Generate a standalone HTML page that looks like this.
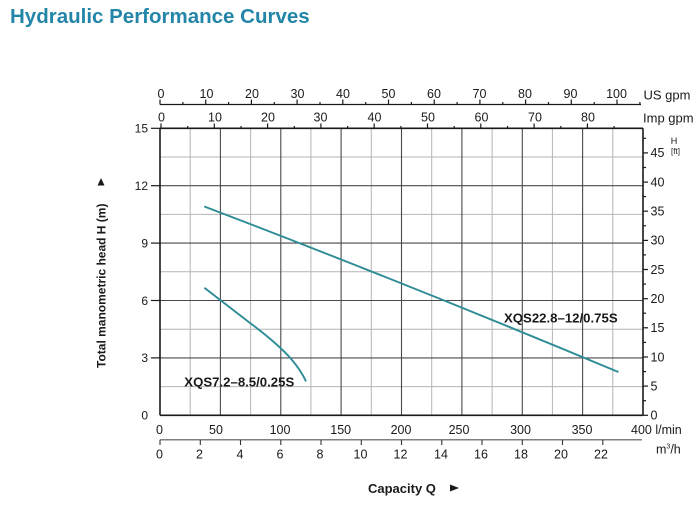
<!DOCTYPE html>
<html>
<head>
<meta charset="utf-8">
<style>
  html,body{margin:0;padding:0;background:#fff;}
  svg{display:block;}
  text{font-family:"Liberation Sans",Arial,sans-serif;fill:#1a1a1a;}
</style>
</head>
<body>
<svg width="700" height="513" viewBox="0 0 700 513" xmlns="http://www.w3.org/2000/svg">
  <rect width="700" height="513" fill="#fff"/>
  <!-- Title -->
  <text x="10" y="23" font-size="20.5" font-weight="bold" style="fill:#2386a8">Hydraulic Performance Curves</text>

  <!-- light grid -->
  <g stroke="#b4b4b4" stroke-width="1">
    <line x1="190.2" y1="128.3" x2="190.2" y2="415.3"/>
    <line x1="250.6" y1="128.3" x2="250.6" y2="415.3"/>
    <line x1="310.9" y1="128.3" x2="310.9" y2="415.3"/>
    <line x1="371.3" y1="128.3" x2="371.3" y2="415.3"/>
    <line x1="431.7" y1="128.3" x2="431.7" y2="415.3"/>
    <line x1="492.1" y1="128.3" x2="492.1" y2="415.3"/>
    <line x1="552.4" y1="128.3" x2="552.4" y2="415.3"/>
    <line x1="612.8" y1="128.3" x2="612.8" y2="415.3"/>
    <line x1="160" y1="386.6" x2="643" y2="386.6"/>
    <line x1="160" y1="329.2" x2="643" y2="329.2"/>
    <line x1="160" y1="271.8" x2="643" y2="271.8"/>
    <line x1="160" y1="214.4" x2="643" y2="214.4"/>
    <line x1="160" y1="157.0" x2="643" y2="157.0"/>
  </g>
  <!-- dark grid -->
  <g stroke="#4a4a4a" stroke-width="1.1">
    <line x1="220.4" y1="128.3" x2="220.4" y2="415.3"/>
    <line x1="280.8" y1="128.3" x2="280.8" y2="415.3"/>
    <line x1="341.1" y1="128.3" x2="341.1" y2="415.3"/>
    <line x1="401.5" y1="128.3" x2="401.5" y2="415.3"/>
    <line x1="461.9" y1="128.3" x2="461.9" y2="415.3"/>
    <line x1="522.3" y1="128.3" x2="522.3" y2="415.3"/>
    <line x1="582.6" y1="128.3" x2="582.6" y2="415.3"/>
    <line x1="160" y1="357.9" x2="643" y2="357.9"/>
    <line x1="160" y1="300.5" x2="643" y2="300.5"/>
    <line x1="160" y1="243.1" x2="643" y2="243.1"/>
    <line x1="160" y1="185.7" x2="643" y2="185.7"/>
  </g>

  <!-- plot border -->
  <g stroke="#1a1a1a" stroke-width="1.6" fill="none">
    <line x1="160" y1="128.3" x2="643" y2="128.3"/>
    <line x1="160" y1="128.3" x2="160" y2="415.3"/>
    <line x1="160" y1="415.3" x2="643" y2="415.3"/>
    <line x1="643" y1="128.3" x2="643" y2="415.3"/>
  </g>

  <!-- left ticks -->
  <g stroke="#1a1a1a" stroke-width="1.2">
    <line x1="151" y1="128.3" x2="160" y2="128.3"/>
    <line x1="151" y1="185.7" x2="160" y2="185.7"/>
    <line x1="151" y1="243.1" x2="160" y2="243.1"/>
    <line x1="151" y1="300.5" x2="160" y2="300.5"/>
    <line x1="151" y1="357.9" x2="160" y2="357.9"/>
  </g>
  <g font-size="12" text-anchor="end">
    <text x="148" y="132.6">15</text>
    <text x="148" y="190">12</text>
    <text x="148" y="247.4">9</text>
    <text x="148" y="304.8">6</text>
    <text x="148" y="362.2">3</text>
    <text x="148" y="419.6">0</text>
  </g>

  <!-- right ft axis ticks -->
  <g stroke="#1a1a1a" stroke-width="1.2">
    <line x1="643" y1="386.1" x2="648" y2="386.1"/>
    <line x1="643" y1="357.0" x2="648" y2="357.0"/>
    <line x1="643" y1="327.8" x2="648" y2="327.8"/>
    <line x1="643" y1="298.7" x2="648" y2="298.7"/>
    <line x1="643" y1="269.5" x2="648" y2="269.5"/>
    <line x1="643" y1="240.4" x2="648" y2="240.4"/>
    <line x1="643" y1="211.2" x2="648" y2="211.2"/>
    <line x1="643" y1="182.1" x2="648" y2="182.1"/>
    <line x1="643" y1="152.9" x2="648" y2="152.9"/>
    <line x1="643" y1="415.3" x2="648" y2="415.3"/>
    <line x1="643" y1="400.7" x2="646" y2="400.7"/>
    <line x1="643" y1="371.6" x2="646" y2="371.6"/>
    <line x1="643" y1="342.4" x2="646" y2="342.4"/>
    <line x1="643" y1="313.2" x2="646" y2="313.2"/>
    <line x1="643" y1="284.1" x2="646" y2="284.1"/>
    <line x1="643" y1="254.9" x2="646" y2="254.9"/>
    <line x1="643" y1="225.8" x2="646" y2="225.8"/>
    <line x1="643" y1="196.6" x2="646" y2="196.6"/>
    <line x1="643" y1="167.5" x2="646" y2="167.5"/>
    <line x1="643" y1="138.3" x2="646" y2="138.3"/>
  </g>
  <g font-size="12.5">
    <text x="650.5" y="419.3">0</text>
    <text x="650.5" y="390.4">5</text>
    <text x="650.5" y="361.3">10</text>
    <text x="650.5" y="332.1">15</text>
    <text x="650.5" y="303">20</text>
    <text x="650.5" y="273.8">25</text>
    <text x="650.5" y="244.7">30</text>
    <text x="650.5" y="215.5">35</text>
    <text x="650.5" y="186.4">40</text>
    <text x="650.5" y="157.2">45</text>
  </g>
  <text x="674" y="144" font-size="9" text-anchor="middle">H</text>
  <text x="675.5" y="154" font-size="8" text-anchor="middle">[ft]</text>

  <!-- US gpm axis -->
  <line x1="160" y1="104.5" x2="641" y2="104.5" stroke="#1a1a1a" stroke-width="1.2"/>
  <g stroke="#1a1a1a" stroke-width="1.2">
    <line x1="160" y1="104.5" x2="160" y2="99.5"/>
    <line x1="205.7" y1="104.5" x2="205.7" y2="99.5"/>
    <line x1="251.4" y1="104.5" x2="251.4" y2="99.5"/>
    <line x1="297.1" y1="104.5" x2="297.1" y2="99.5"/>
    <line x1="342.8" y1="104.5" x2="342.8" y2="99.5"/>
    <line x1="388.5" y1="104.5" x2="388.5" y2="99.5"/>
    <line x1="434.2" y1="104.5" x2="434.2" y2="99.5"/>
    <line x1="479.9" y1="104.5" x2="479.9" y2="99.5"/>
    <line x1="525.6" y1="104.5" x2="525.6" y2="99.5"/>
    <line x1="571.3" y1="104.5" x2="571.3" y2="99.5"/>
    <line x1="617" y1="104.5" x2="617" y2="99.5"/>
    <line x1="182.9" y1="104.5" x2="182.9" y2="102"/>
    <line x1="228.6" y1="104.5" x2="228.6" y2="102"/>
    <line x1="274.3" y1="104.5" x2="274.3" y2="102"/>
    <line x1="320" y1="104.5" x2="320" y2="102"/>
    <line x1="365.7" y1="104.5" x2="365.7" y2="102"/>
    <line x1="411.4" y1="104.5" x2="411.4" y2="102"/>
    <line x1="457.1" y1="104.5" x2="457.1" y2="102"/>
    <line x1="502.8" y1="104.5" x2="502.8" y2="102"/>
    <line x1="548.5" y1="104.5" x2="548.5" y2="102"/>
    <line x1="594.2" y1="104.5" x2="594.2" y2="102"/>
    <line x1="639.9" y1="104.5" x2="639.9" y2="102"/>
  </g>
  <g font-size="12.5" text-anchor="middle">
    <text x="161" y="98">0</text>
    <text x="206.5" y="98">10</text>
    <text x="252" y="98">20</text>
    <text x="297.5" y="98">30</text>
    <text x="343" y="98">40</text>
    <text x="388.5" y="98">50</text>
    <text x="434" y="98">60</text>
    <text x="479.5" y="98">70</text>
    <text x="525" y="98">80</text>
    <text x="570.5" y="98">90</text>
    <text x="616.5" y="98">100</text>
  </g>
  <text x="643.5" y="99.5" font-size="13">US gpm</text>

  <!-- Imp gpm axis (on top border) -->
  <g stroke="#1a1a1a" stroke-width="1.2">
    <line x1="161" y1="128.3" x2="161" y2="123.5"/>
    <line x1="214.3" y1="128.3" x2="214.3" y2="123.5"/>
    <line x1="267.6" y1="128.3" x2="267.6" y2="123.5"/>
    <line x1="320.9" y1="128.3" x2="320.9" y2="123.5"/>
    <line x1="374.2" y1="128.3" x2="374.2" y2="123.5"/>
    <line x1="427.5" y1="128.3" x2="427.5" y2="123.5"/>
    <line x1="480.8" y1="128.3" x2="480.8" y2="123.5"/>
    <line x1="534.1" y1="128.3" x2="534.1" y2="123.5"/>
    <line x1="587.4" y1="128.3" x2="587.4" y2="123.5"/>
    <line x1="187.7" y1="128.3" x2="187.7" y2="126"/>
    <line x1="241" y1="128.3" x2="241" y2="126"/>
    <line x1="294.3" y1="128.3" x2="294.3" y2="126"/>
    <line x1="347.6" y1="128.3" x2="347.6" y2="126"/>
    <line x1="400.9" y1="128.3" x2="400.9" y2="126"/>
    <line x1="454.2" y1="128.3" x2="454.2" y2="126"/>
    <line x1="507.5" y1="128.3" x2="507.5" y2="126"/>
    <line x1="560.8" y1="128.3" x2="560.8" y2="126"/>
    <line x1="614.1" y1="128.3" x2="614.1" y2="126"/>
  </g>
  <g font-size="12.5" text-anchor="middle">
    <text x="161.5" y="121.5">0</text>
    <text x="215" y="121.5">10</text>
    <text x="268" y="121.5">20</text>
    <text x="320.5" y="121.5">30</text>
    <text x="374.5" y="121.5">40</text>
    <text x="428" y="121.5">50</text>
    <text x="481.5" y="121.5">60</text>
    <text x="535" y="121.5">70</text>
    <text x="588" y="121.5">80</text>
  </g>
  <text x="643" y="122.5" font-size="13">Imp gpm</text>

  <!-- bottom l/min labels -->
  <g font-size="12.5" text-anchor="middle">
    <text x="159.5" y="433.8">0</text>
    <text x="216" y="433.8">50</text>
    <text x="280" y="433.8">100</text>
    <text x="340.7" y="433.8">150</text>
    <text x="401" y="433.8">200</text>
    <text x="459" y="433.8">250</text>
    <text x="520.5" y="433.8">300</text>
    <text x="582" y="433.8">350</text>
  </g>
  <text x="631" y="433.8" font-size="12.5">400 l/min</text>

  <!-- m3/h axis -->
  <line x1="160" y1="439.8" x2="642" y2="439.8" stroke="#555" stroke-width="1.1"/>
  <g stroke="#333" stroke-width="1.1">
    <line x1="160" y1="439.8" x2="160" y2="445"/>
    <line x1="200.3" y1="439.8" x2="200.3" y2="445"/>
    <line x1="240.5" y1="439.8" x2="240.5" y2="445"/>
    <line x1="280.8" y1="439.8" x2="280.8" y2="445"/>
    <line x1="321" y1="439.8" x2="321" y2="445"/>
    <line x1="361.3" y1="439.8" x2="361.3" y2="445"/>
    <line x1="401.5" y1="439.8" x2="401.5" y2="445"/>
    <line x1="441.8" y1="439.8" x2="441.8" y2="445"/>
    <line x1="482" y1="439.8" x2="482" y2="445"/>
    <line x1="522.3" y1="439.8" x2="522.3" y2="445"/>
    <line x1="562.5" y1="439.8" x2="562.5" y2="445"/>
    <line x1="602.8" y1="439.8" x2="602.8" y2="445"/>
  </g>
  <g font-size="12.5" text-anchor="middle">
    <text x="159.5" y="458.5">0</text>
    <text x="199.5" y="458.5">2</text>
    <text x="240" y="458.5">4</text>
    <text x="280" y="458.5">6</text>
    <text x="320" y="458.5">8</text>
    <text x="360.5" y="458.5">10</text>
    <text x="400.5" y="458.5">12</text>
    <text x="441" y="458.5">14</text>
    <text x="481" y="458.5">16</text>
    <text x="521" y="458.5">18</text>
    <text x="561" y="458.5">20</text>
    <text x="601" y="458.5">22</text>
  </g>
  <text x="656" y="453.5" font-size="12.5">m<tspan font-size="7" dy="-5">3</tspan><tspan dy="5">/h</tspan></text>

  <!-- curves -->
  <g fill="none" stroke="#2e8c96" stroke-width="1.9" stroke-linecap="round">
    <path d="M205,206.7 Q410,285 617.7,371.7"/>
    <path d="M205,288.3 L250,323 C265,334 283,349 292,360 C298,367 302,373 305.7,380.7"/>
  </g>
  <text x="504" y="322.7" font-size="13.2" font-weight="bold">XQS22.8–12/0.75S</text>
  <text x="184.3" y="386.3" font-size="13.2" font-weight="bold">XQS7.2–8.5/0.25S</text>

  <!-- axis titles -->
  <text transform="translate(105.3,368) rotate(-90)" font-size="12" font-weight="bold">Total manometric head H (m)</text>
  <polygon points="97.5,185.5 104.5,185.5 101,178" fill="#1a1a1a"/>
  <text x="368" y="492.8" font-size="13" font-weight="bold">Capacity Q</text>
  <polygon points="450,484.5 459,488 450,491.5" fill="#1a1a1a"/>
</svg>
</body>
</html>
